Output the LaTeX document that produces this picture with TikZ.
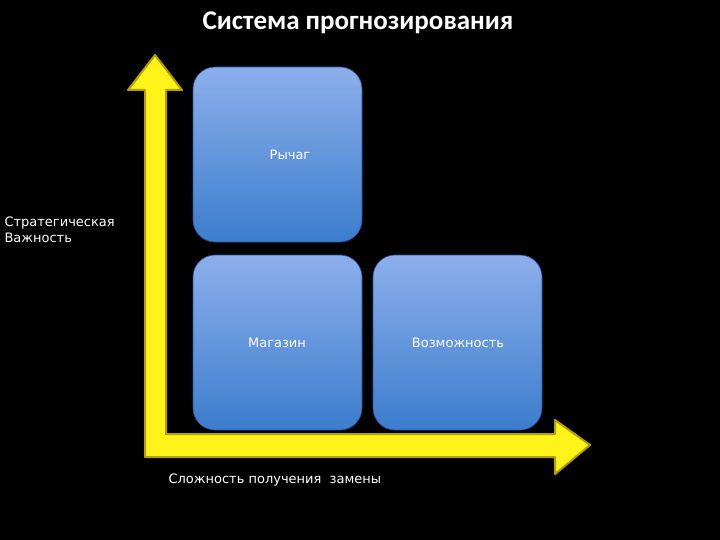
\documentclass[tikz,border=0pt]{standalone}
\usepackage{fontspec}
\setmainfont{DejaVu Sans}
\newfontfamily\titlefont{Carlito}
\begin{document}
\begin{tikzpicture}[x=1pt,y=-1pt,
  boxst/.style={rounded corners=22pt, top color={rgb,255:red,140;green,175;blue,235}, bottom color={rgb,255:red,60;green,125;blue,205}, draw={rgb,255:red,40;green,80;blue,150}, line width=0.6pt},
  lbl/.style={text=white, font=\fontsize{13}{16}\selectfont}]
\fill[black] (0,0) rectangle (720,540);
\useasboundingbox (0,0) rectangle (720,540);
\node[text=white, font=\titlefont\bfseries\fontsize{27}{31}\selectfont] (title) at (358,23) {Система прогнозирования};
\fill[yellow!90!white, draw={rgb,255:red,180;green,160;blue,0}, line width=2pt, line join=round]
 (155,55) -- (182,90) -- (166,90) -- (166,434) -- (555,434) -- (555,420) -- (590,445)
 -- (555,474) -- (555,457) -- (145,457) -- (145,90) -- (128,90) -- cycle;
\node[boxst, minimum width=169pt, minimum height=175pt] (r) at (277.5,154.5) {};
\node[boxst, minimum width=169pt, minimum height=175pt] (m) at (277.5,342.5) {};
\node[boxst, minimum width=169pt, minimum height=175pt] (v) at (457.5,342.5) {};
\node[lbl] (rl) at (290,155) {Рычаг};
\node[lbl] (ml) at (277,343) {Магазин};
\node[lbl] (vl) at (458,343) {Возможность};
\node[lbl, anchor=west, align=left] (ya) at (1,230) {Стратегическая\\Важность};
\node[lbl, anchor=west] (xa) at (165,480) {Сложность получения\ \ замены};
\end{tikzpicture}
\end{document}
